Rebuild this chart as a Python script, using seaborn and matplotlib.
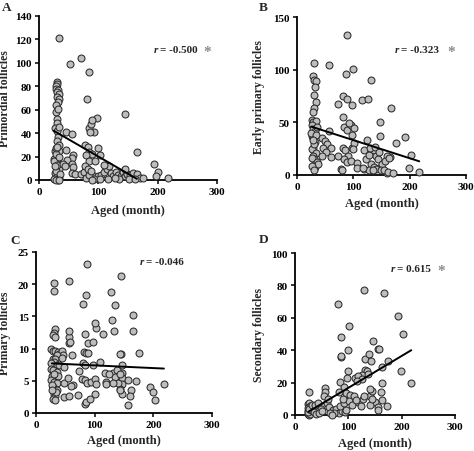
import numpy as np
import pandas as pd
import matplotlib
matplotlib.use("Agg")
import matplotlib.pyplot as plt
import seaborn as sns

# (age in months, follicle count)
primordial = [
    (33, 121), (53, 99), (71, 104), (85, 92), (81, 69), (98, 53), (145, 56),
    (30, 84), (31, 82), (29, 80), (28, 78), (32, 77), (30, 75), (33, 73), (31, 71),
    (34, 69), (32, 67), (29, 58), (30, 52), (31, 49), (27, 44), (30, 42), (32, 37),
    (30, 33), (33, 30), (27, 25), (34, 25), (26, 18), (30, 17), (32, 14), (29, 11),
    (33, 9), (27, 6), (31, 3), (34, 2), (26, 16), (28, 22), (33, 20), (29, 27),
    (25, 1), (32, 0), (28, 8), (30, 13), (35, 5), (27, 12), (31, 28), (33, 45),
    (28, 64), (32, 61), (29, 0), (34, 0),
    (46, 41), (56, 39), (46, 26), (57, 21), (56, 19), (47, 17), (41, 14), (55, 14),
    (57, 11), (44, 12), (55, 6), (61, 5), (70, 5), (76, 7), (86, 5), (92, 3),
    (99, 3), (104, 4), (110, 7), (114, 9), (121, 6), (124, 3), (130, 7), (133, 4),
    (138, 3), (142, 7), (145, 3), (149, 5), (79, 2), (85, 4), (93, 1), (102, 1),
    (116, 1), (135, 1), (89, 0), (128, 2), (118, 12), (110, 13),
    (84, 44), (87, 48), (92, 41), (86, 41), (90, 51), (78, 30), (82, 28), (85, 24),
    (99, 27), (89, 22), (102, 21), (80, 21), (84, 16), (94, 16), (78, 12), (82, 9),
    (88, 8),
    (166, 24), (193, 14), (201, 7), (198, 3), (217, 2), (148, 5), (153, 4), (159, 6),
    (165, 5), (170, 2), (176, 2), (152, 1), (162, 1), (145, 9),
]

early_primary = [
    (88, 133), (30, 106), (56, 104), (87, 96), (100, 101), (131, 90),
    (28, 94), (31, 90), (33, 89), (32, 84), (30, 76), (33, 69), (31, 64), (29, 60),
    (72, 67), (82, 75), (88, 72), (98, 66), (115, 71), (126, 72),
    (27, 52), (29, 50), (34, 51), (26, 47), (28, 44), (32, 42), (57, 42), (81, 55),
    (83, 46), (89, 43), (96, 47), (101, 45), (92, 49),
    (27, 37), (29, 35), (32, 31), (28, 26), (26, 25), (33, 21), (29, 18), (31, 15),
    (27, 16), (35, 12), (32, 8), (38, 10), (25, 40), (30, 29), (34, 38), (26, 9),
    (30, 5), (35, 46), (28, 33),
    (44, 35), (49, 32), (54, 29), (60, 26), (47, 26), (52, 22), (44, 18), (61, 17),
    (72, 18), (78, 6), (82, 26), (86, 24), (91, 18), (83, 15), (89, 12), (95, 13),
    (98, 26), (101, 30), (107, 11), (119, 24), (122, 15), (128, 19), (136, 24),
    (140, 18), (143, 15), (132, 10), (137, 8), (146, 7), (141, 6), (151, 10),
    (149, 5), (107, 7), (119, 6), (128, 5), (135, 5), (79, 5),
    (97, 38), (100, 25), (118, 7), (125, 33), (130, 26), (138, 27), (145, 22),
    (160, 2), (165, 17),
    (167, 64), (147, 50), (147, 37), (175, 30), (192, 36), (202, 19), (199, 7),
    (217, 3), (159, 18), (156, 13), (164, 16), (154, 5), (162, 3), (170, 2),
]

primary = [
    (87, 23.1), (145, 21.2), (30, 20.2), (30, 19.0), (57, 20.5), (80, 17.0),
    (86, 18.3), (127, 18.8), (134, 16.7), (130, 14.4), (133, 12.7), (103, 13.2),
    (100, 14.0), (114, 12.3), (88, 10.8), (83, 12.2), (82, 9.5), (85, 9.3),
    (89, 9.3), (56, 11.8), (56, 10.8), (58, 11.0), (57, 12.8), (97, 11.0),
    (32, 13.1), (30, 12.4), (29, 12.1), (32, 11.8),
    (166, 15.2), (166, 12.7), (176, 9.3), (145, 9.1), (146, 6.2), (147, 5.5),
    (157, 5.1), (171, 4.9), (194, 4.1), (199, 3.3), (202, 2.0), (218, 4.5),
    (162, 3.5), (160, 2.6), (156, 1.2), (146, 4.5), (146, 3.0), (143, 3.8),
    (26, 9.9), (29, 9.7), (33, 9.7), (37, 9.5), (40, 9.2), (45, 9.7), (46, 9.0),
    (36, 9.0), (29, 8.4), (32, 8.4), (30, 7.9), (26, 7.7), (35, 7.4), (26, 6.9),
    (29, 6.6), (35, 6.4), (28, 5.8), (32, 5.6), (37, 5.8), (26, 5.1), (30, 4.8),
    (35, 4.6), (29, 4.0), (32, 3.8), (36, 3.5), (30, 3.0), (33, 2.7), (29, 2.2),
    (32, 2.0), (40, 7.4), (48, 7.2), (45, 8.5), (28, 4.4), (31, 6.1), (34, 3.2),
    (27, 3.5),
    (48, 4.6), (63, 4.3), (73, 6.5), (80, 7.7), (97, 7.4), (109, 7.9), (79, 5.3),
    (83, 5.1), (87, 4.6), (94, 4.8), (100, 5.3), (102, 4.5), (117, 6.2), (119, 4.8),
    (131, 6.2), (134, 5.6), (138, 6.7), (144, 6.0), (140, 4.7), (143, 3.5),
    (131, 4.6), (72, 2.8), (83, 1.4), (86, 1.7), (92, 2.2), (100, 3.0), (47, 2.5),
    (57, 2.7), (143, 9.1), (146, 7.4), (55, 5.4), (60, 4.2), (62, 9.0), (84, 7.5),
    (125, 6.0), (120, 4.5),
]

secondary = [
    (130, 77), (166, 75.5), (80, 68.5), (101, 54.7), (86, 48.3), (99, 40),
    (86, 35.5), (87, 36.5), (146, 45.4), (156, 41), (131, 34.8), (138, 37.8),
    (143, 33.6), (131, 28), (135, 27), (126, 24.5), (137, 25.5), (100, 27),
    (84, 20.2), (98, 23), (113, 23), (119, 24),
    (91, 17), (96, 13.6), (82, 14), (104, 12.3), (110, 11.9), (57, 16.4), (57, 14),
    (55, 12), (26, 14.4),
    (24, 6.7), (26, 7.2), (28, 5.5), (25, 4.5), (29, 3.5), (24, 2.5), (30, 1.9),
    (27, 1.1), (24, 0.5), (26, 0), (28, 0.5), (25, 2), (30, 3), (27, 3.5), (31, 6),
    (38, 6), (44, 7.3), (54, 5.5), (48, 3.5), (60, 7.3), (63, 4.7), (71, 3.1),
    (77, 3.5), (82, 1.4), (88, 2.5), (93, 1.9), (74, 1.1), (85, 5.5), (91, 7.6),
    (101, 8.6), (107, 6), (119, 8), (128, 10), (141, 12), (144, 15), (150, 7.8),
    (156, 4.7), (141, 6), (123, 5.5),
    (194, 61), (203, 50), (158, 41), (175, 33.5), (164, 29.6), (199, 27.4),
    (218, 20), (163, 20), (161, 14), (163, 9), (172, 5.7), (155, 3),
    (35, 2), (40, 0.5), (45, 1), (50, 2.5), (65, 1), (70, 0), (62, 10), (90, 10),
    (95, 3), (115, 9), (140, 16), (145, 10), (130, 12), (125, 22), (117, 21),
]

# regression lines (end points)
trend_age_a, trend_a = [25, 165], [42, 1]
trend_age_b, trend_b = [25, 217], [46, 13]
trend_age_c, trend_c = [27, 218], [7.7, 6.9]
trend_age_d, trend_d = [25, 218], [2, 40]

ylabels = ["Primordial follicles", "Early primary follicles",
           "Primary follicles", "Secondary follicles"]
r_values = ["= -0.500", "= -0.323", "= -0.046", "= 0.615"]
significant = [True, True, False, True]

sns.set_style("ticks")
plt.rcParams['font.family'] = ['Liberation Serif', 'DejaVu Serif']
plt.rcParams['font.weight'] = 'bold'

fig = plt.figure(figsize=(4.74, 4.52), dpi=100)
W, H = 474, 452


def panel(box, pairs, lx, ly, ymax, ystep, ylabel, ylab_x, xlab_y,
          letter, letter_xy, r_text, r_xy, star, star_gap):
    left, top, right, bottom = box
    ax = fig.add_axes([left / W, 1 - bottom / H, (right - left) / W, (bottom - top) / H])
    df = pd.DataFrame(pairs, columns=["age", "count"])
    sns.scatterplot(data=df, x="age", y="count", ax=ax, s=25, color="#bdbdbd",
                    edgecolor="#2b2b2b", linewidth=0.75, clip_on=False, zorder=3,
                    legend=False)
    sns.lineplot(x=lx, y=ly, ax=ax, color="black", linewidth=1.4, zorder=4)
    ax.set_xlim(0, 300)
    ax.set_ylim(0, ymax)
    ax.set_xticks([0, 100, 200, 300])
    ax.set_yticks(np.arange(0, ymax + 1, ystep))
    sns.despine(ax=ax)
    for s in ("left", "bottom"):
        ax.spines[s].set_linewidth(1.3)
        ax.spines[s].set_color("black")
    ax.tick_params(labelsize=8, length=3, width=1.1, pad=2, colors="black")
    for t in ax.get_xticklabels() + ax.get_yticklabels():
        t.set_fontweight("bold")
    ax.set_xlabel("Aged (month)", fontsize=9, fontweight="bold")
    ax.set_ylabel(ylabel, fontsize=8.5, fontweight="bold")
    ax.xaxis.label.set_va("center")
    ax.yaxis.label.set_va("center")
    ax.xaxis.set_label_coords(0.5, xlab_y)
    ax.yaxis.set_label_coords(ylab_x, 0.5)
    fig.text(letter_xy[0] / W, 1 - letter_xy[1] / H, letter, fontsize=9.5,
             fontweight="bold", ha="left", va="top")
    rt = ax.text(r_xy[0], r_xy[1], "r", transform=ax.transAxes, fontsize=8,
                 fontweight="bold", style="italic", ha="left", va="center")
    vt = ax.annotate(r_text, xy=(1, 0.5), xycoords=rt, xytext=(1.5, 0),
                     textcoords="offset points", fontsize=8, fontweight="bold",
                     ha="left", va="center")
    if star:
        ax.annotate("*", xy=(1, 0.5), xycoords=vt, xytext=(star_gap, -1.5),
                    textcoords="offset points", fontsize=11, fontweight="bold",
                    color="#8c8c8c", ha="left", va="center")
    return ax


panel((39, 17, 217, 181), primordial, trend_age_a, trend_a, 140, 20, ylabels[0],
      -0.19, -0.181, "A", (2, 2), r_values[0], (0.646, 0.795), significant[0], 4)
panel((297, 18, 466, 176), early_primary, trend_age_b, trend_b, 150, 50, ylabels[1],
      -0.225, -0.177, "B", (259, 2), r_values[1], (0.58, 0.797), significant[1], 6)
panel((36, 253, 212, 414), primary, trend_age_c, trend_c, 25, 5, ylabels[2],
      -0.176, -0.168, "C", (10, 235), r_values[2], (0.587, 0.94), significant[2], 4)
panel((295, 254, 455, 416), secondary, trend_age_d, trend_d, 100, 20, ylabels[3],
      -0.225, -0.173, "D", (259, 234), r_values[3], (0.596, 0.905), significant[3], 5)

fig.savefig("out.png", dpi=100)
